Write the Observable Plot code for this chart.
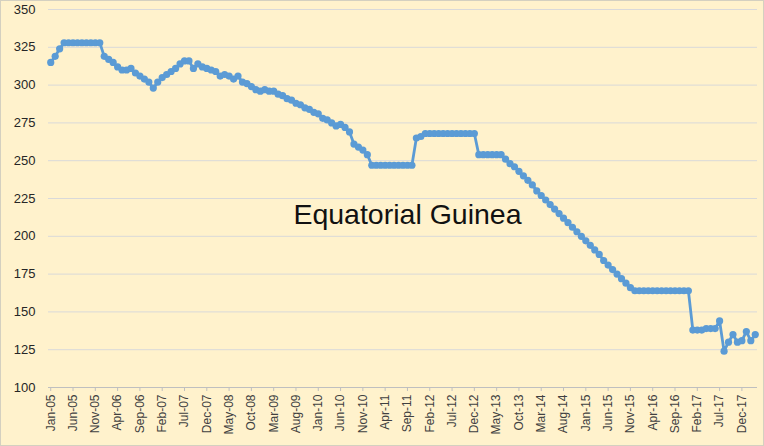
<!DOCTYPE html>
<html>
<head>
<meta charset="utf-8">
<script src="https://cdn.jsdelivr.net/npm/d3@7"></script>
<script src="https://cdn.jsdelivr.net/npm/@observablehq/plot@0.6"></script>
<style>
  html, body { margin: 0; padding: 0; background: #FFF2CC; }
  #chart svg { display: block; outline: 1px solid #D4D0C0; outline-offset: -1px; }
</style>
</head>
<body>
<div id="chart"></div>
<script>
// Month labels (Jan-05 .. Mar-18)
const monthNames = ["Jan","Feb","Mar","Apr","May","Jun","Jul","Aug","Sep","Oct","Nov","Dec"];
const startYear = 2005;
const nMonths = 159;
const months = Array.from({length: nMonths}, (_, i) =>
  monthNames[i % 12] + "-" + String((startYear + Math.floor(i / 12)) % 100).padStart(2, "0"));

// Production values (kb/d)
const values = [
  315, 319, 324, 328, 328, 328, 328, 328, 328, 328, 328, 328,   // 2005
  319, 317, 315, 312, 310, 310, 311, 308, 306, 304, 302, 298,   // 2006
  302, 305, 307, 309, 311, 314, 316, 316, 311, 314, 312, 311,   // 2007
  310, 309, 306, 307, 306, 304, 306, 302, 301, 299, 297, 296,   // 2008
  297, 296, 296, 294, 293, 291, 290, 288, 287, 285, 284, 282,   // 2009
  281, 278, 277, 275, 273, 274, 272, 269, 261, 259, 257, 254,   // 2010
  247, 247, 247, 247, 247, 247, 247, 247, 247, 247, 265, 266,   // 2011
  268, 268, 268, 268, 268, 268, 268, 268, 268, 268, 268, 268,   // 2012
  254, 254, 254, 254, 254, 254, 251, 248, 246, 243, 240, 237,   // 2013
  234, 230, 227, 224, 221, 218, 215, 212, 209, 206, 203, 200,   // 2014
  197, 194, 191, 188, 184, 181, 178, 175, 172, 169, 166, 164,   // 2015
  164, 164, 164, 164, 164, 164, 164, 164, 164, 164, 164, 164,   // 2016
  138, 138, 138, 139, 139, 139, 144, 124, 130, 135, 130, 131,   // 2017
  137, 131, 135                                                 // 2018
];

const yTicks = [100, 125, 150, 175, 200, 225, 250, 275, 300, 325, 350];
const xTickEvery = 5;
const xTicks = months.map((_, i) => i).filter(i => i % xTickEvery === 0 && i < 156);

const titleText = "Equatorial Guinea";
const titleMonth = "Sep-11";
const titleValue = 214;

const data = values.map((v, i) => ({i, month: months[i], value: v}));

const blue = "#5B9BD5";
const plot = Plot.plot({
  width: 764,
  height: 446,
  marginLeft: 48,
  marginRight: 7,
  marginTop: 9,
  marginBottom: 59,
  style: {background: "#FFF2CC", fontFamily: "'Liberation Sans', Arial, sans-serif", color: "#404040"},
  x: {domain: [-0.5, nMonths - 0.5], axis: null},
  y: {domain: [100, 350], axis: null},
  marks: [
    Plot.ruleY(yTicks.filter(t => t > 100), {stroke: "#D9D9D9", strokeWidth: 1}),
    Plot.ruleY([100], {stroke: "#BFBFBF", strokeWidth: 1}),
    Plot.axisY({
      ticks: yTicks, tickSize: 0, tickPadding: 13, label: null,
      fontSize: 13, fill: "#262626"
    }),
    Plot.axisX({
      ticks: xTicks, tickSize: 4, stroke: "#BFBFBF", label: null,
      tickFormat: i => months[i], tickRotate: -90,
      tickPadding: 3, fontSize: 12, fill: "#404040"
    }),
    Plot.line(data, {x: "i", y: "value", stroke: blue, strokeWidth: 2.8}),
    Plot.dot(data, {x: "i", y: "value", r: 3.6, fill: blue, stroke: "none"}),
    Plot.text([titleText], {
      x: () => months.indexOf(titleMonth), y: () => titleValue,
      text: d => d, fontSize: 28.5, fill: "#111", textAnchor: "middle"
    })
  ]
});
document.getElementById("chart").appendChild(plot);
</script>
</body>
</html>
